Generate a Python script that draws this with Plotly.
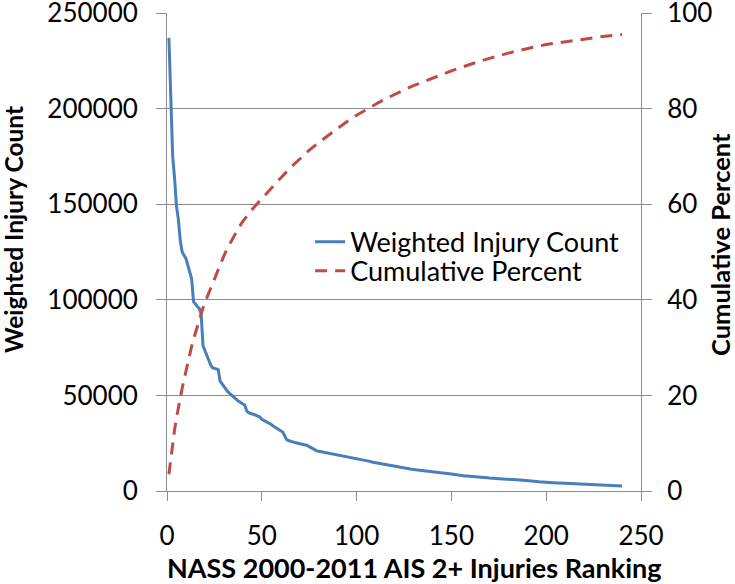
import plotly.graph_objects as go

# ---- data ----
rank = list(range(1, 241))
weighted_count = [
    237000, 203000, 175000, 163500, 149000, 142000, 131000, 125000, 123000, 121500,
    118000, 114000, 111000, 99000, 97500, 96500, 95500, 92500, 76000, 73500,
    70500, 68000, 66000, 64500, 64200, 64000, 63500, 57500, 56000, 54500,
    53500, 52000, 51000, 50000, 49000, 48000, 47500, 46800, 46000, 45500,
    45000, 42000, 41000, 40500, 40300, 40000, 39500, 39000, 38700, 37500,
    37000, 36500, 36000, 35500, 34800, 34000, 33300, 32600, 32200, 31500,
    30800, 29000, 27000, 26400, 26000, 25700, 25400, 25200, 25000, 24800,
    24600, 24500, 24400, 23800, 23200, 22600, 22000, 21500, 21000, 20800,
    20600, 20400, 20200, 20000, 19900, 19700, 19500, 19300, 19100, 19000,
    18800, 18600, 18500, 18300, 18200, 18000, 17700, 17500, 17300, 17100,
    16900, 16700, 16500, 16300, 16100, 15800, 15500, 15200, 15000, 14800,
    14600, 14400, 14200, 14000, 13800, 13600, 13400, 13200, 13000, 12800,
    12600, 12400, 12300, 12200, 12000, 11900, 11700, 11600, 11400, 11300,
    11200, 11100, 11000, 10900, 10800, 10700, 10600, 10500, 10400, 10300,
    10200, 10100, 10000, 9900, 9800, 9700, 9550, 9450, 9200, 9000,
    8800, 8600, 8400, 8300, 8100, 8000, 7900, 7850, 7800, 7700,
    7650, 7600, 7500, 7400, 7300, 7200, 7100, 7000, 6900, 6800,
    6700, 6600, 6500, 6400, 6350, 6300, 6250, 6200, 6150, 6100,
    6050, 6000, 5950, 5900, 5850, 5800, 5750, 5700, 5650, 5600,
    5550, 5450, 5400, 5200, 5000, 4850, 4750, 4650, 4550, 4500,
    4450, 4400, 4350, 4300, 4250, 4200, 4150, 4100, 4050, 4000,
    3950, 3900, 3850, 3800, 3750, 3700, 3650, 3600, 3550, 3500,
    3450, 3400, 3350, 3300, 3250, 3200, 3150, 3100, 3050, 3000,
    2950, 2900, 2850, 2800, 2750, 2700, 2680, 2650, 2620, 2600,
]

cum_rank = [1, 2, 3, 4, 5, 6, 7, 8, 9, 10, 11, 12, 13, 14, 15, 16, 17, 18, 19, 20,
            21, 22, 23, 24, 25, 26, 27, 28, 29, 30, 32, 34, 36, 38, 40, 42, 44, 46, 48, 50,
            55, 60, 65, 70, 75, 80, 85, 90, 95, 100, 105, 110, 115, 120, 125, 130, 135, 140,
            145, 150, 155, 160, 165, 170, 175, 180, 185, 190, 195, 200, 205, 210, 215, 220,
            225, 230, 235, 240]
cum_percent = [3.5, 7.0, 10.0, 12.8, 15.3, 17.6, 19.6, 21.5, 23.3, 25.2, 27.0, 28.7, 30.3, 31.8,
               33.2, 34.6, 35.9, 37.2, 38.3, 39.4, 40.4, 41.4, 42.4, 43.5, 44.5, 45.5, 46.5,
               47.4, 48.3, 49.2, 50.9, 52.4, 53.8, 55.2, 56.4, 57.5, 58.5, 59.4, 60.3, 61.1,
               63.4, 65.5, 67.6, 69.5, 71.3, 72.9, 74.4, 75.9, 77.3, 78.6, 79.8, 80.9, 82.0,
               83.0, 83.9, 84.8, 85.6, 86.4, 87.2, 87.9, 88.6, 89.3, 89.9, 90.5, 91.1, 91.6,
               92.1, 92.6, 93.0, 93.4, 93.7, 94.0, 94.3, 94.6, 94.9, 95.1, 95.3, 95.5]

x_ticks = [0, 50, 100, 150, 200, 250]
y_ticks = [0, 50000, 100000, 150000, 200000, 250000]
y2_ticks = [0, 20, 40, 60, 80, 100]

x_title = "NASS 2000-2011 AIS 2+ Injuries Ranking"
y_title = "Weighted Injury Count"
y2_title = "Cumulative Percent"

FONT = "Lato"
GRID = "#8c8c8c"

fig = go.Figure()
fig.add_trace(go.Scatter(
    x=rank, y=weighted_count, mode="lines", name="Weighted Injury Count",
    line=dict(color="#4A7EBB", width=3), yaxis="y", legend="legend"))
fig.add_trace(go.Scatter(
    x=cum_rank, y=cum_percent, mode="lines", name="Cumulative Percent",
    line=dict(color="#BE4B48", width=3, dash="12px,8px"), yaxis="y2", legend="legend2"))

leg_common = dict(xanchor="left", yanchor="top", bgcolor="rgba(0,0,0,0)",
                  font=dict(size=27, family=FONT), itemwidth=30)

tick_common = dict(ticks="outside", tickcolor=GRID, ticklabeloverflow="allow",
                   tickfont=dict(size=26), showline=True, linecolor=GRID, linewidth=1,
                   zeroline=False)

fig.update_layout(
    width=735, height=584,
    margin=dict(l=167, r=94, t=13, b=93, autoexpand=False),
    paper_bgcolor="white", plot_bgcolor="white",
    font=dict(family=FONT, size=25, color="black"),
    showlegend=True,
    legend=dict(x=0.302, y=0.572, **leg_common),
    legend2=dict(x=0.302, y=0.511, **leg_common),
    xaxis=dict(range=[0, 250], tickvals=x_ticks, ticktext=[str(v) for v in x_ticks],
               showgrid=False, ticklen=9, ticklabelstandoff=13, **tick_common),
    yaxis=dict(range=[0, 250000], tickvals=y_ticks, ticktext=[str(v) for v in y_ticks],
               showgrid=True, gridcolor=GRID, gridwidth=1,
               ticklen=10, ticklabelstandoff=13, **tick_common),
    yaxis2=dict(range=[0, 100], tickvals=y2_ticks, ticktext=[str(v) for v in y2_ticks],
                overlaying="y", side="right", showgrid=False,
                ticklen=10, ticklabelstandoff=10, **tick_common),
    annotations=[
        dict(text=f"<b>{x_title}</b>", xref="paper", yref="paper", x=0.523, y=-0.161,
             xanchor="center", yanchor="middle", showarrow=False, font=dict(size=27)),
        dict(text=f"<b>{y_title}</b>", xref="paper", yref="paper", x=-0.325, y=0.548,
             xanchor="center", yanchor="middle", showarrow=False, textangle=-90,
             font=dict(size=24.5)),
        dict(text=f"<b>{y2_title}</b>", xref="paper", yref="paper", x=1.167, y=0.515,
             xanchor="center", yanchor="middle", showarrow=False, textangle=-90,
             font=dict(size=25.5)),
    ],
)

fig.write_html("out.html", config={"displayModeBar": False},
               post_script="document.body.style.margin='0';")
